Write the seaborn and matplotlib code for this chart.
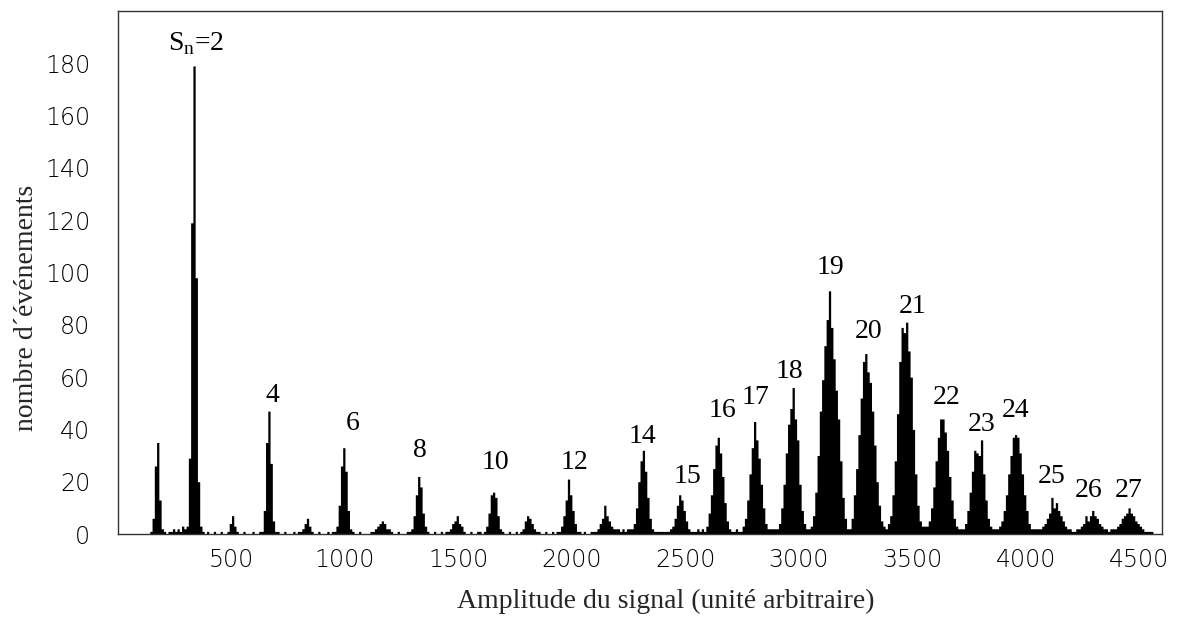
import numpy as np
import pandas as pd
import matplotlib
matplotlib.use("Agg")
import matplotlib.pyplot as plt
import seaborn as sns
from matplotlib.ticker import FixedLocator, MultipleLocator

# histogram: bins of 10 units from 0 to 4600, one row = 100 units
BIN_WIDTH = 10
counts = [
    0, 0, 0, 0, 0, 0, 0, 0, 0, 0,            # 0
    0, 0, 0, 0, 1, 6, 26, 35, 13, 2,         # 100
    1, 0, 1, 1, 2, 1, 2, 1, 3, 2,            # 200
    3, 29, 119, 179, 98, 20, 3, 1, 0, 1,     # 300
    0, 0, 1, 0, 0, 1, 0, 0, 1, 4,            # 400
    7, 3, 1, 0, 0, 1, 0, 0, 0, 1,            # 500
    0, 0, 1, 1, 9, 35, 47, 27, 5, 1,         # 600
    1, 0, 0, 1, 0, 0, 0, 1, 0, 1,            # 700
    1, 2, 4, 6, 3, 1, 0, 0, 1, 0,            # 800
    0, 0, 1, 0, 1, 1, 3, 11, 26, 33,         # 900
    24, 9, 2, 1, 0, 0, 1, 0, 0, 0,           # 1000
    0, 1, 1, 2, 3, 4, 5, 4, 2, 2,            # 1100
    1, 0, 0, 1, 0, 0, 0, 1, 1, 2,            # 1200
    7, 15, 22, 18, 8, 3, 1, 0, 0, 1,         # 1300
    0, 0, 1, 0, 1, 1, 2, 4, 5, 7,            # 1400
    4, 3, 1, 0, 0, 1, 0, 0, 1, 1,            # 1500
    0, 1, 3, 8, 15, 16, 14, 7, 2, 1,         # 1600
    0, 0, 1, 0, 0, 1, 0, 1, 2, 5,            # 1700
    7, 6, 4, 2, 1, 1, 0, 0, 1, 0,            # 1800
    0, 1, 0, 1, 1, 3, 7, 13, 21, 15,         # 1900
    9, 4, 1, 1, 0, 1, 0, 0, 1, 1,            # 2000
    1, 2, 4, 6, 11, 7, 5, 3, 2, 2,           # 2100
    2, 1, 2, 1, 2, 2, 2, 4, 10, 20,          # 2200
    28, 32, 24, 14, 6, 2, 1, 1, 1, 1,        # 2300
    1, 1, 1, 2, 3, 6, 11, 15, 13, 9,         # 2400
    5, 2, 1, 1, 1, 2, 1, 2, 1, 3,            # 2500
    8, 15, 25, 34, 37, 31, 22, 12, 5, 2,     # 2600
    1, 1, 2, 1, 1, 3, 6, 13, 23, 33,         # 2700
    43, 36, 29, 19, 10, 4, 2, 2, 2, 2,       # 2800
    2, 4, 10, 19, 31, 42, 48, 56, 44, 36,    # 2900
    19, 9, 4, 2, 2, 3, 7, 16, 30, 47,        # 3000
    59, 72, 82, 93, 79, 67, 55, 44, 28, 14,  # 3100
    6, 2, 2, 6, 15, 25, 38, 52, 66, 69,      # 3200
    62, 58, 47, 34, 20, 11, 5, 3, 2, 4,      # 3300
    7, 15, 28, 46, 66, 79, 77, 81, 70, 60,   # 3400
    40, 23, 11, 5, 3, 3, 3, 5, 10, 18,       # 3500
    28, 37, 44, 44, 39, 32, 22, 13, 6, 3,    # 3600
    2, 2, 2, 4, 9, 16, 24, 32, 31, 30,       # 3700
    36, 23, 13, 6, 3, 2, 2, 2, 3, 5,         # 3800
    9, 15, 23, 30, 37, 38, 37, 31, 23, 15,   # 3900
    9, 4, 2, 2, 2, 2, 2, 3, 4, 6,            # 4000
    8, 14, 10, 12, 9, 7, 5, 3, 2, 2,         # 4100
    1, 1, 2, 2, 3, 4, 7, 5, 7, 9,            # 4200
    7, 6, 4, 3, 2, 2, 1, 2, 2, 2,            # 4300
    3, 4, 6, 7, 8, 10, 8, 7, 5, 4,           # 4400
    3, 2, 1, 1, 1, 1, 0, 0, 0, 0,            # 4500
]

# peak annotations (S_n values) and where they sit
peak_labels = [r"S$_\mathregular{n}$=2", "4", "6", "8", "10", "12", "14", "15", "16", "17",
               "18", "19", "20", "21", "22", "23", "24", "25", "26", "27"]
label_x = [346, 680, 1032, 1330, 1662, 2011, 2310, 2508, 2662, 2811,
           2959, 3141, 3309, 3503, 3653, 3807, 3955, 4115, 4276, 4452]
label_y = [185, 50.4, 39.7, 29.5, 24.8, 24.8, 34.7, 19.6, 44.7, 49.8,
           59.7, 99.5, 74.9, 84.6, 49.8, 39.4, 44.7, 19.6, 14.3, 14.3]

x_ticks = [500, 1000, 1500, 2000, 2500, 3000, 3500, 4000, 4500]
y_ticks = [0, 20, 40, 60, 80, 100, 120, 140, 160, 180]

sns.set_theme(style="white")
plt.rcParams["font.family"] = ["DejaVu Sans"]
plt.rcParams["mathtext.fontset"] = "custom"
plt.rcParams["mathtext.rm"] = "Liberation Serif"

df = pd.DataFrame({
    "amplitude": np.arange(len(counts)) * BIN_WIDTH + BIN_WIDTH / 2,
    "events": counts,
})

fig = plt.figure(figsize=(11.78, 6.2), dpi=100)
ax = fig.add_axes([118 / 1178, 86 / 620, 1044 / 1178, 523 / 620])

sns.histplot(data=df, x="amplitude", weights="events", binwidth=BIN_WIDTH,
             binrange=(0, 4600), element="step", fill=True, color="black",
             alpha=1, linewidth=0, ax=ax)

ax.set_xlim(0, 4600)
ax.set_ylim(0, 200)
ax.set_xlabel("")
ax.set_ylabel("")

ax.xaxis.set_major_locator(FixedLocator(x_ticks))
ax.xaxis.set_minor_locator(MultipleLocator(100))
ax.yaxis.set_major_locator(FixedLocator(y_ticks))
ax.yaxis.set_minor_locator(MultipleLocator(5))
ax.tick_params(which="both", direction="in", top=False, right=False,
               color="#444444", width=1, labelcolor="black")
ax.tick_params(which="major", length=14)
ax.tick_params(which="minor", length=6.7)
ax.tick_params(axis="x", which="major", pad=10, labelsize=17)
ax.tick_params(axis="y", which="major", pad=20, labelsize=17)
for lab in ax.get_xticklabels() + ax.get_yticklabels():
    lab.set_fontweight("light")
for sp in ax.spines.values():
    sp.set_color("#333333")
    sp.set_linewidth(1)
    sp.set_zorder(5)

for txt, x, y in zip(peak_labels, label_x, label_y):
    ax.text(x, y, txt, ha="center", va="baseline", fontsize=20,
            family="Liberation Serif", color="black")

fig.text(666 / 1178, 1 - 601 / 620, "Amplitude du signal (unité arbitraire)",
         ha="center", va="center", fontsize=20, family="Liberation Serif")
fig.text(27 / 1178, 1 - 307.5 / 620, "nombre d´événements", rotation=90,
         ha="center", va="center", fontsize=20, family="Liberation Serif")

fig.savefig("out.png", dpi=100)
